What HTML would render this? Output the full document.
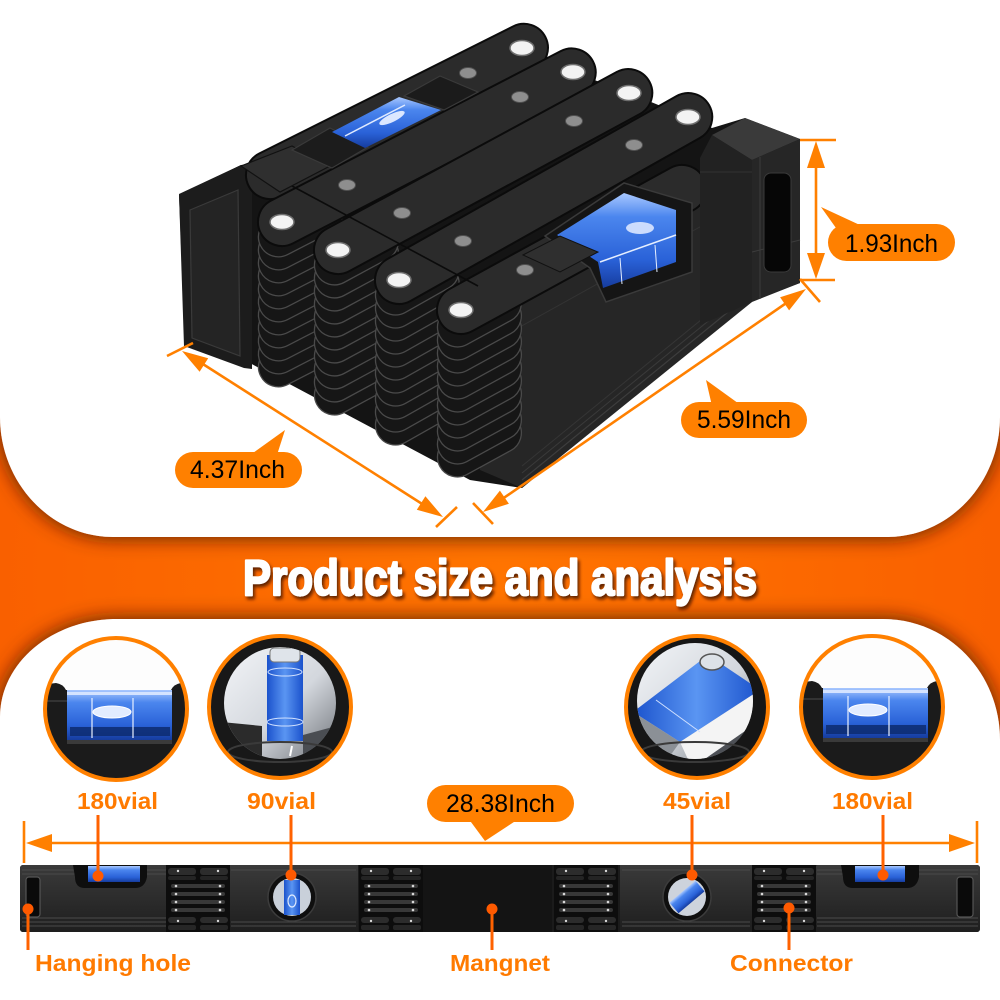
<!DOCTYPE html>
<html><head><meta charset="utf-8">
<style>
html,body{margin:0;padding:0;background:#fff;}
svg{display:block;}
.p{fill:#161616;stroke:#4a4a4a;stroke-width:1.3;}
.b{fill:#2b2b2b;stroke:#0b0b0b;stroke-width:2;}
.scr{fill:#f3f3f3;stroke:#6f6f6f;stroke-width:1.5;}
.gd{fill:#8e8e8e;stroke:#505050;stroke-width:1;}
.dim{stroke:#ff8000;stroke-width:2.6;fill:none;}
.ar{fill:#ff8000;}
.pill{fill:#ff8000;}
.pt{font-family:"Liberation Sans",sans-serif;font-size:25px;fill:#000;}
.lb{font-family:"Liberation Sans",sans-serif;font-weight:bold;font-size:23px;fill:#ff7a00;}
.ld{stroke:#ff6200;stroke-width:3;}
.dot{fill:#ff5a00;}
</style></head>
<body>
<svg width="1000" height="1000" viewBox="0 0 1000 1000" xmlns="http://www.w3.org/2000/svg">
<defs>
  <filter id="sh" x="-5%" y="-10%" width="110%" height="125%">
    <feDropShadow dx="0" dy="0" stdDeviation="10" flood-color="#4a1300" flood-opacity="0.95"/>
  </filter>
  <filter id="ts" x="-5%" y="-20%" width="110%" height="150%">
    <feDropShadow dx="2" dy="3" stdDeviation="1.5" flood-color="#3a1000" flood-opacity="0.8"/>
  </filter>
  <radialGradient id="band" cx="0.5" cy="0.578" r="0.6">
    <stop offset="0" stop-color="#ff7400"/>
    <stop offset="1" stop-color="#f85c00"/>
  </radialGradient>
  <linearGradient id="bluev" x1="0" y1="0" x2="0" y2="1">
    <stop offset="0" stop-color="#a9c8ff"/>
    <stop offset="0.25" stop-color="#4b86ee"/>
    <stop offset="0.7" stop-color="#2a62d8"/>
    <stop offset="1" stop-color="#163c9e"/>
  </linearGradient>
  <linearGradient id="blueh" x1="0" y1="0" x2="1" y2="0">
    <stop offset="0" stop-color="#1b52cc"/>
    <stop offset="0.5" stop-color="#5a95f2"/>
    <stop offset="1" stop-color="#1b52cc"/>
  </linearGradient>
  <linearGradient id="lens" x1="0" y1="0" x2="1" y2="1">
    <stop offset="0" stop-color="#f3f5f8"/>
    <stop offset="0.55" stop-color="#d3d7dd"/>
    <stop offset="1" stop-color="#6d7278"/>
  </linearGradient>
  <linearGradient id="endg" x1="0" y1="0" x2="0" y2="1">
    <stop offset="0" stop-color="#3a3a3a"/>
    <stop offset="0.5" stop-color="#2c2c2c"/>
    <stop offset="1" stop-color="#1e1e1e"/>
  </linearGradient>
  <rect id="pl" x="-24" y="-20" width="90" height="40" rx="20"/>
  <clipPath id="c1"><circle cx="116" cy="709" r="71"/></clipPath>
  <clipPath id="c2"><circle cx="280" cy="707" r="71"/></clipPath>
  <clipPath id="c2l"><circle cx="280" cy="703" r="56"/></clipPath>
  <clipPath id="c3"><circle cx="697" cy="707" r="71"/></clipPath>
  <clipPath id="c3l"><circle cx="695" cy="701" r="58"/></clipPath>
  <clipPath id="c4"><circle cx="872" cy="707" r="71"/></clipPath>
  <g id="vial180">
    <rect x="30" y="630" width="180" height="170" fill="#fdfdfd"/>
    <path d="M40,685 L56,683 Q63,684 66,690 L171,690 Q174,684 181,683 L200,683 V800 H40 Z" fill="#1b1b1b"/>
    <rect x="67" y="690" width="105" height="50" fill="url(#bluev)"/>
    <rect x="67" y="692" width="105" height="3" fill="#d4e3ff"/>
    <rect x="70" y="727" width="100" height="9" fill="#0d2c70" opacity="0.85"/>
    <ellipse cx="112" cy="712" rx="19" ry="6" fill="#e2ecff" stroke="#fff" stroke-width="1"/>
    <line x1="92" y1="698" x2="92" y2="738" stroke="#e8f0ff" stroke-width="1.2"/>
    <line x1="133" y1="698" x2="133" y2="738" stroke="#e8f0ff" stroke-width="1.2"/>
    <rect x="67" y="740" width="105" height="4" fill="#3a3a3a"/>
    <rect x="40" y="700" width="27" height="2" fill="#333"/>
  </g>
  <g id="conn">
    <rect x="0" y="0" width="64" height="67" fill="#0d0d0d"/>
    <rect x="2" y="3" width="28" height="7" rx="3" fill="#2c2c2c"/>
    <rect x="34" y="3" width="28" height="7" rx="3" fill="#2c2c2c"/>
    <rect x="2" y="11" width="28" height="4" rx="2" fill="#242424"/>
    <rect x="34" y="11" width="28" height="4" rx="2" fill="#242424"/>
    <rect x="5" y="19" width="54" height="4" rx="2" fill="#383838"/>
    <rect x="5" y="27" width="54" height="4" rx="2" fill="#383838"/>
    <rect x="5" y="35" width="54" height="4" rx="2" fill="#383838"/>
    <rect x="5" y="43" width="54" height="4" rx="2" fill="#383838"/>
    <rect x="2" y="52" width="28" height="6" rx="3" fill="#2c2c2c"/>
    <rect x="34" y="52" width="28" height="6" rx="3" fill="#2c2c2c"/>
    <rect x="2" y="60" width="28" height="5" rx="2" fill="#262626"/>
    <rect x="34" y="60" width="28" height="5" rx="2" fill="#262626"/>
    <g fill="#d8d8d8">
      <circle cx="10" cy="21" r="1.3"/><circle cx="54" cy="21" r="1.3"/>
      <circle cx="10" cy="29" r="1.3"/><circle cx="54" cy="29" r="1.3"/>
      <circle cx="10" cy="37" r="1.3"/><circle cx="54" cy="37" r="1.3"/>
      <circle cx="10" cy="45" r="1.3"/><circle cx="54" cy="45" r="1.3"/>
      <circle cx="12" cy="6" r="1.2"/><circle cx="52" cy="6" r="1.2"/>
      <circle cx="12" cy="56" r="1.2"/><circle cx="52" cy="56" r="1.2"/>
    </g>
  </g>
</defs>

<!-- background -->
<rect width="1000" height="1000" fill="url(#band)"/>
<path d="M0,0 H1000 V417 C1000,483 949,537 887,537 H113 C51,537 0,483 0,417 Z" fill="#fff" filter="url(#sh)"/>
<path d="M0,1010 V717 C0,663 52,619 117,619 H883 C948,619 1000,673 1000,740 V1010 Z" fill="#fff" filter="url(#sh)"/>

<!-- title -->
<text x="243" y="595" font-family="'Liberation Sans Narrow','Liberation Sans',sans-serif" font-weight="bold" font-size="50" fill="#fff" stroke="#fff" stroke-width="2.2" stroke-linejoin="round" textLength="514" lengthAdjust="spacingAndGlyphs" filter="url(#ts)">Product size and analysis</text>

<!-- ============ PRODUCT (folded level) ============ -->
<polygon points="179,195 241,165 290,160 522,48 573,72 629,93 688,117 712,128 745,118 800,139 800,283 748,302 522,488 470,480 455,472 248,362 185,345" fill="#141414"/>
<!-- front face of row 5 -->
<polygon points="480,327 752,178 752,302 522,488 480,470" fill="#262626"/>
<line x1="522" y1="480" x2="750" y2="294" stroke="#3d3d3d" stroke-width="1.2"/>
<line x1="522" y1="473" x2="750" y2="287" stroke="#3a3a3a" stroke-width="1"/>
<line x1="522" y1="466" x2="750" y2="280" stroke="#353535" stroke-width="1"/>
<line x1="500" y1="338" x2="752" y2="198" stroke="#333" stroke-width="1"/>
<!-- left end block -->
<polygon points="179,194 241,165 252,170 252,369 244,368 184,346" fill="#1c1c1c"/>
<polygon points="190,210 238,190 240,356 192,338" fill="#242424" stroke="#3a3a3a" stroke-width="1.2"/>

<!-- stacks (plates) -->
<g class="p">
  <use href="#pl" transform="translate(282,365) rotate(-27.3)"/><use href="#pl" transform="translate(282,352) rotate(-27.3)"/>
  <use href="#pl" transform="translate(282,339) rotate(-27.3)"/><use href="#pl" transform="translate(282,326) rotate(-27.3)"/>
  <use href="#pl" transform="translate(282,313) rotate(-27.3)"/><use href="#pl" transform="translate(282,300) rotate(-27.3)"/>
  <use href="#pl" transform="translate(282,287) rotate(-27.3)"/><use href="#pl" transform="translate(282,274) rotate(-27.3)"/>
  <use href="#pl" transform="translate(282,261) rotate(-27.3)"/><use href="#pl" transform="translate(282,248) rotate(-27.3)"/>
  <use href="#pl" transform="translate(282,235) rotate(-27.3)"/>

  <use href="#pl" transform="translate(338,393) rotate(-28.4)"/><use href="#pl" transform="translate(338,380) rotate(-28.4)"/>
  <use href="#pl" transform="translate(338,367) rotate(-28.4)"/><use href="#pl" transform="translate(338,354) rotate(-28.4)"/>
  <use href="#pl" transform="translate(338,341) rotate(-28.4)"/><use href="#pl" transform="translate(338,328) rotate(-28.4)"/>
  <use href="#pl" transform="translate(338,315) rotate(-28.4)"/><use href="#pl" transform="translate(338,302) rotate(-28.4)"/>
  <use href="#pl" transform="translate(338,289) rotate(-28.4)"/><use href="#pl" transform="translate(338,276) rotate(-28.4)"/>
  <use href="#pl" transform="translate(338,263) rotate(-28.4)"/>

  <use href="#pl" transform="translate(399,423) rotate(-29.4)"/><use href="#pl" transform="translate(399,410) rotate(-29.4)"/>
  <use href="#pl" transform="translate(399,397) rotate(-29.4)"/><use href="#pl" transform="translate(399,384) rotate(-29.4)"/>
  <use href="#pl" transform="translate(399,371) rotate(-29.4)"/><use href="#pl" transform="translate(399,358) rotate(-29.4)"/>
  <use href="#pl" transform="translate(399,345) rotate(-29.4)"/><use href="#pl" transform="translate(399,332) rotate(-29.4)"/>
  <use href="#pl" transform="translate(399,319) rotate(-29.4)"/><use href="#pl" transform="translate(399,306) rotate(-29.4)"/>
  <use href="#pl" transform="translate(399,293) rotate(-29.4)"/>

  <use href="#pl" transform="translate(461,455) rotate(-28.7)"/><use href="#pl" transform="translate(461,442) rotate(-28.7)"/>
  <use href="#pl" transform="translate(461,429) rotate(-28.7)"/><use href="#pl" transform="translate(461,416) rotate(-28.7)"/>
  <use href="#pl" transform="translate(461,403) rotate(-28.7)"/><use href="#pl" transform="translate(461,390) rotate(-28.7)"/>
  <use href="#pl" transform="translate(461,377) rotate(-28.7)"/><use href="#pl" transform="translate(461,364) rotate(-28.7)"/>
  <use href="#pl" transform="translate(461,351) rotate(-28.7)"/><use href="#pl" transform="translate(461,338) rotate(-28.7)"/>
  <use href="#pl" transform="translate(461,325) rotate(-28.7)"/>
</g>

<!-- top bars -->
<rect class="b" x="-24" y="-24" width="332" height="48" rx="24" transform="translate(270,175) rotate(-26.6)"/>
<rect class="b" x="-24" y="-24" width="374" height="48" rx="24" transform="translate(282,222) rotate(-27.3)"/>
<rect class="b" x="-24" y="-24" width="378" height="48" rx="24" transform="translate(338,250) rotate(-28.4)"/>
<rect class="b" x="-24" y="-24" width="380" height="48" rx="24" transform="translate(399,280) rotate(-29.4)"/>
<rect class="b" x="-24" y="-24" width="300" height="48" rx="24" transform="translate(461,310) rotate(-28.7)"/>
<!-- transverse joint line -->
<line x1="292" y1="186" x2="478" y2="286" stroke="#0b0b0b" stroke-width="1.6"/>

<!-- right end block (front-most at right) -->
<polygon points="712,135 745,118 800,139 752,160" fill="#3a3a3a"/>
<polygon points="752,160 800,139 800,283 752,302" fill="#262626"/>
<polygon points="700,158 712,135 752,160 752,302 700,325" fill="#222"/>
<line x1="700" y1="172" x2="752" y2="172" stroke="#333" stroke-width="1"/>
<line x1="760" y1="157" x2="760" y2="299" stroke="#3c3c3c" stroke-width="1"/>
<line x1="752" y1="252" x2="800" y2="240" stroke="#3c3c3c" stroke-width="1"/>
<rect x="764" y="173" width="27" height="99" rx="7" fill="#060606" stroke="#3a3a3a" stroke-width="1"/>

<!-- row 1 details: blocks + vial -->
<polygon points="241,166 292,146 330,166 280,192" fill="#2f2f2f" stroke="#111" stroke-width="1.2"/>
<polygon points="292,150 330,128 368,147 332,168" fill="#1c1c1c" stroke="#3a3a3a" stroke-width="1.2"/>
<polygon points="332,132 399,97 441,110 365,148" fill="url(#bluev)"/>
<line x1="345" y1="136" x2="405" y2="105" stroke="#dfeaff" stroke-width="1.5"/>
<ellipse cx="392" cy="118" rx="14" ry="4" transform="rotate(-26 392 118)" fill="#dbe7ff"/>
<polygon points="404,96 440,76 478,92 444,110" fill="#1b1b1b" stroke="#3a3a3a" stroke-width="1.2"/>

<!-- front vial (row 5) -->
<polygon points="545,236 624,183 692,203 692,272 606,302 590,268" fill="#151515" stroke="#3a3a3a" stroke-width="1.5"/>
<polygon points="557,235 624,193 676,210 676,262 603,288 598,262" fill="url(#bluev)"/>
<line x1="600" y1="262" x2="676" y2="235" stroke="#e6efff" stroke-width="1.5"/>
<ellipse cx="640" cy="228" rx="14" ry="6" fill="#dbe7ff" opacity="0.9"/>
<line x1="620" y1="258" x2="622" y2="284" stroke="#e6efff" stroke-width="1"/>
<line x1="655" y1="245" x2="657" y2="272" stroke="#e6efff" stroke-width="1"/>
<polygon points="523,255 560,236 598,252 560,272" fill="#2f2f2f" stroke="#111" stroke-width="1"/>

<!-- screws -->
<ellipse class="scr" cx="522" cy="48" rx="12" ry="7.5"/>
<ellipse class="scr" cx="573" cy="72" rx="12" ry="7.5"/>
<ellipse class="scr" cx="629" cy="93" rx="12" ry="7.5"/>
<ellipse class="scr" cx="688" cy="117" rx="12" ry="7.5"/>
<ellipse class="scr" cx="282" cy="222" rx="12" ry="7.5"/>
<ellipse class="scr" cx="338" cy="250" rx="12" ry="7.5"/>
<ellipse class="scr" cx="399" cy="280" rx="12" ry="7.5"/>
<ellipse class="scr" cx="461" cy="310" rx="12" ry="7.5"/>
<!-- grey dots -->
<ellipse class="gd" cx="468" cy="73" rx="8.5" ry="5.5"/>
<ellipse class="gd" cx="520" cy="97" rx="8.5" ry="5.5"/>
<ellipse class="gd" cx="574" cy="121" rx="8.5" ry="5.5"/>
<ellipse class="gd" cx="634" cy="145" rx="8.5" ry="5.5"/>
<ellipse class="gd" cx="347" cy="185" rx="8.5" ry="5.5"/>
<ellipse class="gd" cx="402" cy="213" rx="8.5" ry="5.5"/>
<ellipse class="gd" cx="463" cy="241" rx="8.5" ry="5.5"/>
<ellipse class="gd" cx="525" cy="270" rx="8.5" ry="5.5"/>

<!-- ============ top dimensions ============ -->
<!-- 1.93 -->
<line class="dim" x1="816" y1="160" x2="816" y2="260" stroke-width="3"/>
<polygon class="ar" points="816,141 807,168 825,168"/>
<polygon class="ar" points="816,279 807,253 825,253"/>
<line class="dim" x1="800" y1="140" x2="836" y2="140" stroke-width="3"/>
<line class="dim" x1="800" y1="280" x2="835" y2="280" stroke-width="3"/>
<polygon class="pill" points="821,207 836,228 862,226"/>
<rect class="pill" x="828" y="224" width="127" height="37" rx="18.5"/>
<text class="pt" x="845" y="252" textLength="93" lengthAdjust="spacingAndGlyphs">1.93Inch</text>
<!-- 5.59 -->
<line class="dim" x1="495" y1="504" x2="795" y2="297"/>
<polygon class="ar" points="483,512 508.9,503.8 499.9,490.6"/>
<polygon class="ar" points="806,289 789.1,310.4 780.1,297.2"/>
<line class="dim" x1="473" y1="503" x2="493" y2="524"/>
<line class="dim" x1="800" y1="279" x2="820" y2="302"/>
<polygon class="pill" points="706,380 712,406 742,406"/>
<rect class="pill" x="681" y="402" width="126" height="36" rx="18"/>
<text class="pt" x="697" y="428" textLength="94" lengthAdjust="spacingAndGlyphs">5.59Inch</text>
<!-- 4.37 -->
<line class="dim" x1="195" y1="359" x2="430" y2="509"/>
<polygon class="ar" points="182,351 199.6,371.7 208.2,358.2"/>
<polygon class="ar" points="443,517 416.8,509.8 425.4,496.2"/>
<line class="dim" x1="167" y1="356" x2="193" y2="343"/>
<line class="dim" x1="436" y1="527" x2="457" y2="507"/>
<polygon class="pill" points="285,430 246,458 276,458"/>
<rect class="pill" x="175" y="452" width="127" height="36" rx="18"/>
<text class="pt" x="190" y="478" textLength="95" lengthAdjust="spacingAndGlyphs">4.37Inch</text>

<!-- ============ magnified circles ============ -->
<g clip-path="url(#c1)"><use href="#vial180"/></g>
<circle cx="116" cy="709" r="71" fill="none" stroke="#ff8000" stroke-width="4"/>

<g clip-path="url(#c2)">
  <rect x="200" y="630" width="160" height="160" fill="#181818"/>
  <circle cx="280" cy="703" r="56" fill="url(#lens)"/>
  <g clip-path="url(#c2l)">
    <rect x="267" y="655" width="36" height="86" fill="url(#blueh)"/>
    <rect x="270" y="648" width="30" height="14" rx="4" fill="#dfe4ea" stroke="#777" stroke-width="1"/>
    <ellipse cx="285" cy="722" rx="18" ry="4" fill="none" stroke="#cfe0ff" stroke-width="1"/>
    <ellipse cx="285" cy="672" rx="17" ry="4" fill="none" stroke="#cfe0ff" stroke-width="1"/>
    <polygon points="222,722 262,726 262,762 222,762" fill="#2b2b2b"/>
    <polygon points="303,735 340,725 340,762 303,762" fill="#4a4d52"/>
    <line x1="292" y1="746" x2="290" y2="756" stroke="#fff" stroke-width="2"/>
  </g>
  <ellipse cx="280" cy="752" rx="52" ry="10" fill="none" stroke="#3a3a3a" stroke-width="2"/>
</g>
<circle cx="280" cy="707" r="71" fill="none" stroke="#ff8000" stroke-width="4"/>

<g clip-path="url(#c3)">
  <rect x="620" y="630" width="160" height="160" fill="#161616"/>
  <circle cx="695" cy="701" r="58" fill="url(#lens)"/>
  <g clip-path="url(#c3l)">
    <polygon points="633,712 708,655 760,690 680,742" fill="url(#blueh)"/>
    <polygon points="680,742 760,690 778,708 692,768" fill="#f4f4f4"/>
    <polygon points="692,768 778,708 780,770 690,780" fill="#4d5056"/>
    <polygon points="620,700 633,712 680,742 660,770 620,770" fill="#8b9096"/>
    <ellipse cx="712" cy="662" rx="12" ry="8" fill="#dde2e8" stroke="#555" stroke-width="1.5"/>
    <line x1="656" y1="700" x2="700" y2="732" stroke="#cfe0ff" stroke-width="1"/>
  </g>
  <ellipse cx="695" cy="752" rx="54" ry="10" fill="none" stroke="#3a3a3a" stroke-width="2"/>
</g>
<circle cx="697" cy="707" r="71" fill="none" stroke="#ff8000" stroke-width="4"/>

<g clip-path="url(#c4)"><use href="#vial180" transform="translate(756,-2)"/></g>
<circle cx="872" cy="707" r="71" fill="none" stroke="#ff8000" stroke-width="4"/>

<!-- ============ bottom labels / dims ============ -->
<text class="lb" x="77" y="809" textLength="81" lengthAdjust="spacingAndGlyphs">180vial</text>
<text class="lb" x="247" y="809" textLength="69" lengthAdjust="spacingAndGlyphs">90vial</text>
<text class="lb" x="663" y="809" textLength="68" lengthAdjust="spacingAndGlyphs">45vial</text>
<text class="lb" x="832" y="809" textLength="81" lengthAdjust="spacingAndGlyphs">180vial</text>

<polygon class="pill" points="485,841 468,818 520,818"/>
<rect class="pill" x="427" y="785" width="147" height="37" rx="18.5"/>
<text class="pt" x="446" y="812" textLength="109" lengthAdjust="spacingAndGlyphs">28.38Inch</text>

<line class="dim" x1="45" y1="843" x2="955" y2="843" stroke-width="3"/>
<polygon class="ar" points="26,843 52,834 52,852"/>
<polygon class="ar" points="975,843 949,834 949,852"/>
<line class="dim" x1="24" y1="821" x2="24" y2="863" stroke-width="3"/>
<line class="dim" x1="977" y1="821" x2="977" y2="863" stroke-width="3"/>

<!-- level bar -->
<rect x="20" y="865" width="960" height="67" rx="3" fill="#1b1b1b"/>
<rect x="20" y="865" width="148" height="67" rx="3" fill="url(#endg)"/>
<rect x="815" y="865" width="165" height="67" rx="3" fill="url(#endg)"/>
<rect x="229" y="865" width="129" height="67" fill="url(#endg)"/>
<rect x="620" y="865" width="132" height="67" fill="url(#endg)"/>
<rect x="423" y="865" width="129" height="67" fill="#141414"/>
<g stroke="#4a4a4a" stroke-width="1">
  <line x1="22" y1="870" x2="166" y2="870"/><line x1="22" y1="874" x2="166" y2="874"/>
  <line x1="22" y1="918" x2="166" y2="918"/><line x1="22" y1="922" x2="166" y2="922"/><line x1="22" y1="926" x2="166" y2="926"/>
  <line x1="817" y1="870" x2="978" y2="870"/><line x1="817" y1="874" x2="978" y2="874"/>
  <line x1="817" y1="918" x2="978" y2="918"/><line x1="817" y1="922" x2="978" y2="922"/><line x1="817" y1="926" x2="978" y2="926"/>
  <line x1="231" y1="870" x2="356" y2="870"/><line x1="231" y1="922" x2="356" y2="922"/><line x1="231" y1="926" x2="356" y2="926"/>
  <line x1="622" y1="870" x2="750" y2="870"/><line x1="622" y1="922" x2="750" y2="922"/><line x1="622" y1="926" x2="750" y2="926"/>
</g>
<use href="#conn" transform="translate(166,865)"/>
<use href="#conn" transform="translate(359,865)"/>
<use href="#conn" transform="translate(554,865)"/>
<use href="#conn" transform="translate(752,865)"/>
<!-- vial windows -->
<path d="M73,865 L147,865 L147,877 Q145,888 135,888 L85,888 Q75,888 75,877 Z" fill="#0e0e0e"/>
<rect x="88" y="866" width="52" height="16" fill="url(#bluev)"/>
<path d="M841,865 L919,865 L919,877 Q917,888 907,888 L853,888 Q843,888 843,877 Z" fill="#0e0e0e"/>
<rect x="855" y="866" width="50" height="16" fill="url(#bluev)"/>
<!-- round vials -->
<circle cx="292" cy="897" r="24" fill="#0f0f0f" stroke="#3c3c3c" stroke-width="1.5"/>
<circle cx="292" cy="897" r="19" fill="#c9d0da"/>
<rect x="284" y="880" width="16" height="35" fill="url(#blueh)"/>
<ellipse cx="292" cy="901" rx="4" ry="6" fill="none" stroke="#e0ebff" stroke-width="1.2"/>
<circle cx="687" cy="897" r="24" fill="#0f0f0f" stroke="#3c3c3c" stroke-width="1.5"/>
<circle cx="687" cy="897" r="19" fill="#cdd3dc"/>
<rect x="670" y="890" width="34" height="14" fill="url(#bluev)" transform="rotate(-40 687 897)"/>
<!-- hanging holes -->
<rect x="26" y="877" width="14" height="40" rx="3" fill="#0a0a0a" stroke="#555" stroke-width="1.2"/>
<rect x="957" y="877" width="16" height="40" rx="3" fill="#0a0a0a" stroke="#555" stroke-width="1.2"/>

<!-- leaders -->
<line class="ld" x1="98" y1="815" x2="98" y2="876"/><circle class="dot" cx="98" cy="876" r="5.5"/>
<line class="ld" x1="291" y1="815" x2="291" y2="875"/><circle class="dot" cx="291" cy="875" r="5.5"/>
<line class="ld" x1="692" y1="815" x2="692" y2="875"/><circle class="dot" cx="692" cy="875" r="5.5"/>
<line class="ld" x1="883" y1="815" x2="883" y2="875"/><circle class="dot" cx="883" cy="875" r="5.5"/>
<line class="ld" x1="28" y1="909" x2="28" y2="950"/><circle class="dot" cx="28" cy="909" r="5.5"/>
<line class="ld" x1="492" y1="909" x2="492" y2="950"/><circle class="dot" cx="492" cy="909" r="5.5"/>
<line class="ld" x1="789" y1="908" x2="789" y2="950"/><circle class="dot" cx="789" cy="908" r="5.5"/>

<text class="lb" x="35" y="971" textLength="156" lengthAdjust="spacingAndGlyphs">Hanging hole</text>
<text class="lb" x="450" y="971" textLength="100" lengthAdjust="spacingAndGlyphs">Mangnet</text>
<text class="lb" x="730" y="971" textLength="123" lengthAdjust="spacingAndGlyphs">Connector</text>
</svg>
</body></html>
